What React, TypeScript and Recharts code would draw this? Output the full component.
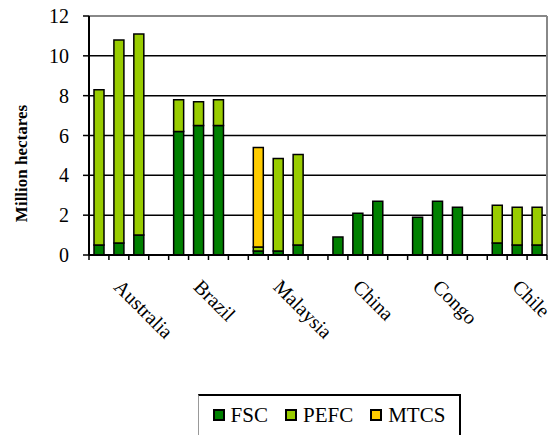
import React from "react";
import {
  BarChart,
  Bar,
  XAxis,
  YAxis,
  CartesianGrid,
  Legend,
  ReferenceLine,
} from "recharts";

// three bars per country (successive years), values in million hectares
const countries = ["Australia", "Brazil", "Malaysia", "China", "Congo", "Chile"];
const fscValues = [
  [0.5, 0.6, 1.0],
  [6.2, 6.5, 6.5],
  [0.2, 0.2, 0.5],
  [0.9, 2.1, 2.7],
  [1.9, 2.7, 2.4],
  [0.6, 0.5, 0.5],
];
const pefcValues = [
  [7.8, 10.2, 10.1],
  [1.6, 1.2, 1.3],
  [0.2, 4.65, 4.55],
  [0, 0, 0],
  [0, 0, 0],
  [1.9, 1.9, 1.9],
];
const mtcsValues = [
  [0, 0, 0],
  [0, 0, 0],
  [5.0, 0, 0],
  [0, 0, 0],
  [0, 0, 0],
  [0, 0, 0],
];
const yTicks = [0, 2, 4, 6, 8, 10, 12];

const series = [
  { key: "FSC", color: "#008000" },
  { key: "PEFC", color: "#99CC00" },
  { key: "MTCS", color: "#FFCC00" },
];

type Row = {
  key: string;
  label: string;
  FSC: number | null;
  PEFC: number | null;
  MTCS: number | null;
};

const rows: Row[] = [];
countries.forEach((c, ci) => {
  for (let i = 0; i < 3; i++) {
    rows.push({
      key: `${c}-${i}`,
      label: i === 1 ? c : "",
      FSC: fscValues[ci][i],
      PEFC: pefcValues[ci][i],
      MTCS: mtcsValues[ci][i],
    });
  }
  if (ci < countries.length - 1) {
    rows.push({ key: `gap-${ci}`, label: "", FSC: null, PEFC: null, MTCS: null });
  }
});

const W = 548;
const H = 435;
const LEFT = 89;
const RIGHT = 1;
const SLOT = (W - LEFT - RIGHT) / rows.length;
const FONT = "Liberation Serif";

function XTick(props: any) {
  const { x, y, index } = props;
  const row = rows[index];
  const half = SLOT / 2;
  const tx = x - 6;
  const ty = y + 33;
  return (
    <g>
      <line x1={x - half} y1={y} x2={x - half} y2={y + 5} stroke="#000" strokeWidth={1.5} />
      {index === rows.length - 1 && (
        <line x1={x + half} y1={y} x2={x + half} y2={y + 5} stroke="#000" strokeWidth={1.5} />
      )}
      {row && row.label && (
        <text
          x={tx}
          y={ty}
          transform={`rotate(45 ${tx} ${ty})`}
          textAnchor="start"
          fontSize={20}
          style={{ fontFamily: FONT }}
          fill="#000"
        >
          {row.label}
        </text>
      )}
    </g>
  );
}

function LegendContent() {
  return (
    <div
      style={{
        display: "flex",
        alignItems: "center",
        justifyContent: "center",
        gap: 17,
        height: "100%",
        paddingBottom: 4,
        boxSizing: "border-box",
        fontFamily: FONT,
        fontSize: 21,
        color: "#000",
      }}
    >
      {series.map((s) => (
        <div key={s.key} style={{ display: "flex", alignItems: "center" }}>
          <span
            style={{
              display: "inline-block",
              width: 8,
              height: 8,
              background: s.color,
              border: "2px solid #000",
              marginRight: 6,
            }}
          />
          <span>{s.key}</span>
        </div>
      ))}
    </div>
  );
}

export default function App() {
  return (
    <div
      style={{
        position: "absolute",
        left: 0,
        top: 0,
        width: W,
        height: H,
        background: "#fff",
        fontFamily: FONT,
      }}
    >
      <BarChart
        width={W}
        height={H}
        data={rows}
        margin={{ top: 16, right: RIGHT, bottom: 0, left: 0 }}
        style={{ fontFamily: FONT }}
      >
        <CartesianGrid vertical={false} stroke="#000" strokeWidth={1.5} />
        <ReferenceLine y={12} stroke="#888" strokeWidth={2} />
        <ReferenceLine
          x={rows[rows.length - 1].key}
          position="end"
          stroke="#888"
          strokeWidth={2}
        />
        <XAxis
          dataKey="key"
          height={180}
          interval={0}
          tickLine={false}
          tickSize={0}
          tickMargin={0}
          axisLine={{ stroke: "#000", strokeWidth: 2 }}
          tick={<XTick />}
        />
        <YAxis
          width={LEFT}
          domain={[0, 12]}
          ticks={yTicks}
          interval={0}
          tick={{ fontSize: 20, fill: "#000", style: { fontFamily: FONT } }}
          tickSize={6}
          tickMargin={14}
          tickLine={{ stroke: "#000", strokeWidth: 1.5 }}
          axisLine={{ stroke: "#000", strokeWidth: 2 }}
          label={{
            content: ({ viewBox }: any) => {
              const cx = viewBox.x + 21;
              const cy = viewBox.y + viewBox.height / 2 + 28;
              return (
                <text
                  x={cx}
                  y={cy}
                  transform={`rotate(-90 ${cx} ${cy})`}
                  textAnchor="middle"
                  dominantBaseline="central"
                  fontSize={17}
                  fontWeight="bold"
                  style={{ fontFamily: FONT }}
                  fill="#000"
                >
                  Million hectares
                </text>
              );
            },
          }}
        />
        {series.map((s) => (
          <Bar
            key={s.key}
            dataKey={s.key}
            stackId="a"
            fill={s.color}
            stroke="#000"
            strokeWidth={1.5}
            barSize={10}
            isAnimationActive={false}
          />
        ))}
        <Legend
          layout="horizontal"
          verticalAlign="middle"
          align="center"
          content={<LegendContent />}
          wrapperStyle={{
            left: 198,
            top: 394,
            width: 263,
            height: 45,
            boxSizing: "border-box",
            borderTop: "2px solid #000",
            borderRight: "2px solid #000",
            borderLeft: "1px solid #999",
            borderBottom: "1px solid #000",
            background: "#fff",
          }}
        />
      </BarChart>
    </div>
  );
}
